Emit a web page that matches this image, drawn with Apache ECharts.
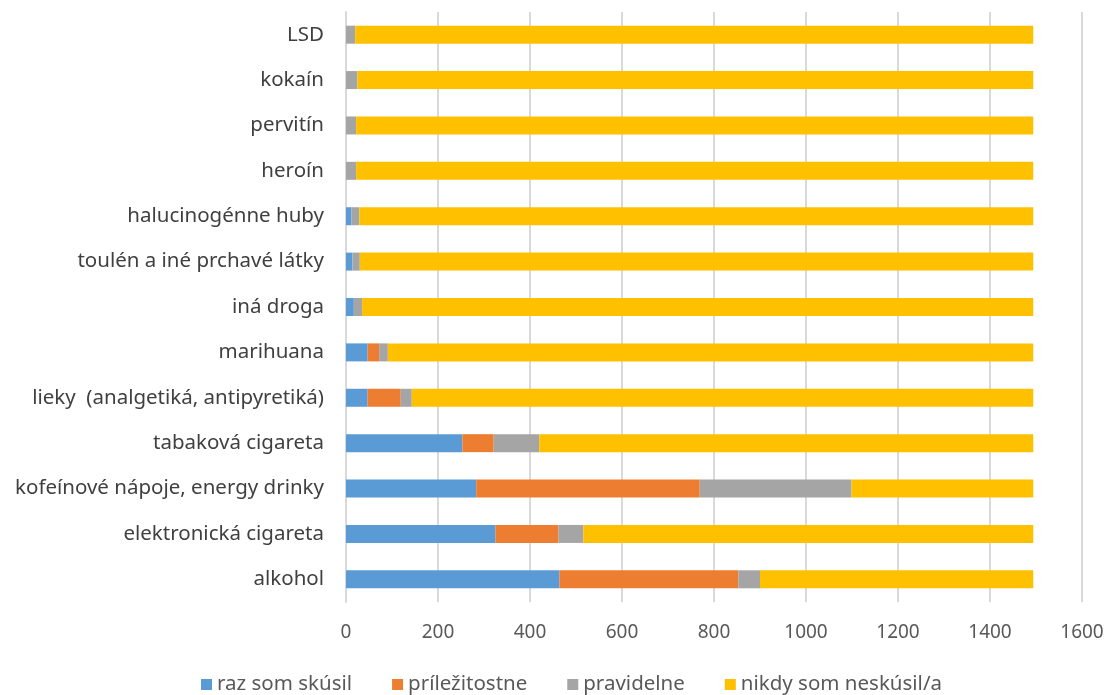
<!DOCTYPE html>
<html><head><meta charset="utf-8">
<script src="https://cdn.jsdelivr.net/npm/echarts@6/dist/echarts.min.js"></script>
<style>html,body{margin:0;padding:0;background:#fff}#c{width:1108px;height:695px}</style>
</head><body><div id="c"></div>
<script>
const categories = ["alkohol","elektronická cigareta","kofeínové nápoje, energy drinky","tabaková cigareta","lieky  (analgetiká, antipyretiká)","marihuana","iná droga","toulén a iné prchavé látky","halucinogénne huby","heroín","pervitín","kokaín","LSD"];
const razSomSkusil = [464, 325, 283, 253, 47, 47, 17, 14, 12, 0, 0, 0, 0];
const prilezitostne = [389, 137, 486, 68, 72, 25, 0, 0, 0, 0, 0, 0, 0];
const pravidelne = [47, 54, 330, 99, 24, 19, 18, 16, 17, 22, 22, 25, 20];
const nikdy = [594, 978, 395, 1074, 1351, 1403, 1459, 1464, 1465, 1472, 1472, 1469, 1474];
const xTicks = [0, 200, 400, 600, 800, 1000, 1200, 1400, 1600];

const font = "'Noto Sans', sans-serif";
const mk = (name, data, color) => ({name, type:'bar', stack:'s', data, barWidth:18, itemStyle:{color}, emphasis:{disabled:true}});
const chart = echarts.init(document.getElementById('c'));
chart.setOption({
  animation:false,
  textStyle:{fontFamily:font},
  grid:{left:346, right:26, top:12, bottom:93, containLabel:false},
  xAxis:{type:'value', min:xTicks[0], max:xTicks[xTicks.length-1], interval:200,
    axisLine:{show:false}, axisTick:{show:false},
    axisLabel:{color:'#595959', fontSize:19, fontFamily:font, margin:21, formatter:v=>String(v)},
    splitLine:{lineStyle:{color:'#d9d9d9', width:2}}},
  yAxis:{type:'category', data:categories,
    axisLine:{show:true, lineStyle:{color:'#d9d9d9', width:2}}, axisTick:{show:false},
    axisLabel:{color:'#404040', fontSize:20.5, fontFamily:font, margin:22}},
  legend:{bottom:-5, left:196, itemWidth:11, itemHeight:11, itemGap:40, icon:'rect',
    textStyle:{color:'#595959', fontSize:20.5, fontFamily:font}},
  series:[mk('raz som skúsil', razSomSkusil, '#5B9BD5'), mk('príležitostne', prilezitostne, '#ED7D31'),
          mk('pravidelne', pravidelne, '#A5A5A5'), mk('nikdy som neskúsil/a', nikdy, '#FFC000')]
});
</script></body></html>
